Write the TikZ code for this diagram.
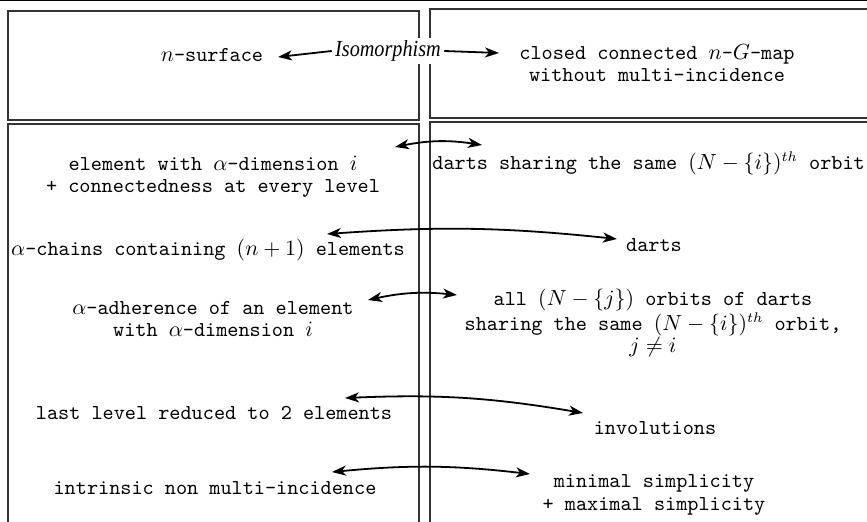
\documentclass[tikz,border=0pt]{standalone}
\usepackage{fontspec}
\usepackage{graphicx}
\newfontfamily\isofont{Liberation Serif}
\usetikzlibrary{arrows.meta}
\begin{document}
\begin{tikzpicture}[x=0.5pt,y=-0.5pt,
    panel/.style={draw=black!80, line width=0.7pt},
    txt/.style={font=\ttfamily\fontsize{10.6}{11.2}\selectfont, align=center, inner sep=1pt},
    link/.style={line width=0.9pt, >={Stealth[length=7pt,width=5pt,inset=2pt]}}]
    \useasboundingbox (0,0) rectangle (867,522);

    % frames
    \draw[line width=0.75pt] (0,0.75) -- (867,0.75);
    \draw[panel] (8,11) rectangle (419,120);
    \draw[panel] (430,9) rectangle (880,118);
    \draw[panel] (8,124) rectangle (419,540);
    \draw[panel] (430,122) rectangle (880,540);

    % header
    \node[txt] (surf) at (212,55) {$n$-surface};
    \node[txt] (gmap) at (657,63) {closed connected $n$-$G$-map\\without multi-incidence};
    \node[font=\isofont\itshape\fontsize{11.5}{12}\selectfont, fill=white, inner sep=1.5pt] (iso) at (388,51) {\scalebox{0.88}[1]{Isomorphism}};
    \coordinate (s1) at (278,57);
    \coordinate (g1) at (499,53);
    \draw[link,->] (iso.west) -- (s1);
    \draw[link,->] (iso.east) -- (g1);

    % correspondences
    \node[txt] (l1) at (213,177) {element with $\alpha$-dimension $i$\\+ connectedness at every level};
    \node[txt, anchor=west] (r1) at (430,163) {darts sharing the same $(N-\{i\})^{th}$ orbit};
    \node[txt] (l2) at (208,250) {$\alpha$-chains containing $(n+1)$ elements};
    \node[txt] (r2) at (654,245) {darts};
    \node[txt] (l3) at (213,319) {$\alpha$-adherence of an element\\with $\alpha$-dimension $i$};
    \node[txt] (r3) at (653,323) {all $(N-\{j\})$ orbits of darts\\sharing the same $(N-\{i\})^{th}$ orbit,\\$j\neq i$};
    \node[txt] (l4) at (214,413) {last level reduced to 2 elements};
    \node[txt] (r4) at (655,428) {involutions};
    \node[txt] (l5) at (215,488) {intrinsic non multi-incidence};
    \node[txt] (r5) at (654,495) {minimal simplicity\\+ maximal simplicity};

    \foreach \k/\xa/\ya/\xb/\yb/\b in {1/395/147/482/145/10, 2/327/234/617/239/5,
        3/368/300/457/295/9, 4/345/398/583/413/6, 5/332/472/530/474/6}
    {
        \coordinate (a\k) at (\xa,\ya);
        \coordinate (b\k) at (\xb,\yb);
        \draw[link,<->] (a\k) to[bend left=\b] (b\k);
    }
\end{tikzpicture}
\end{document}
